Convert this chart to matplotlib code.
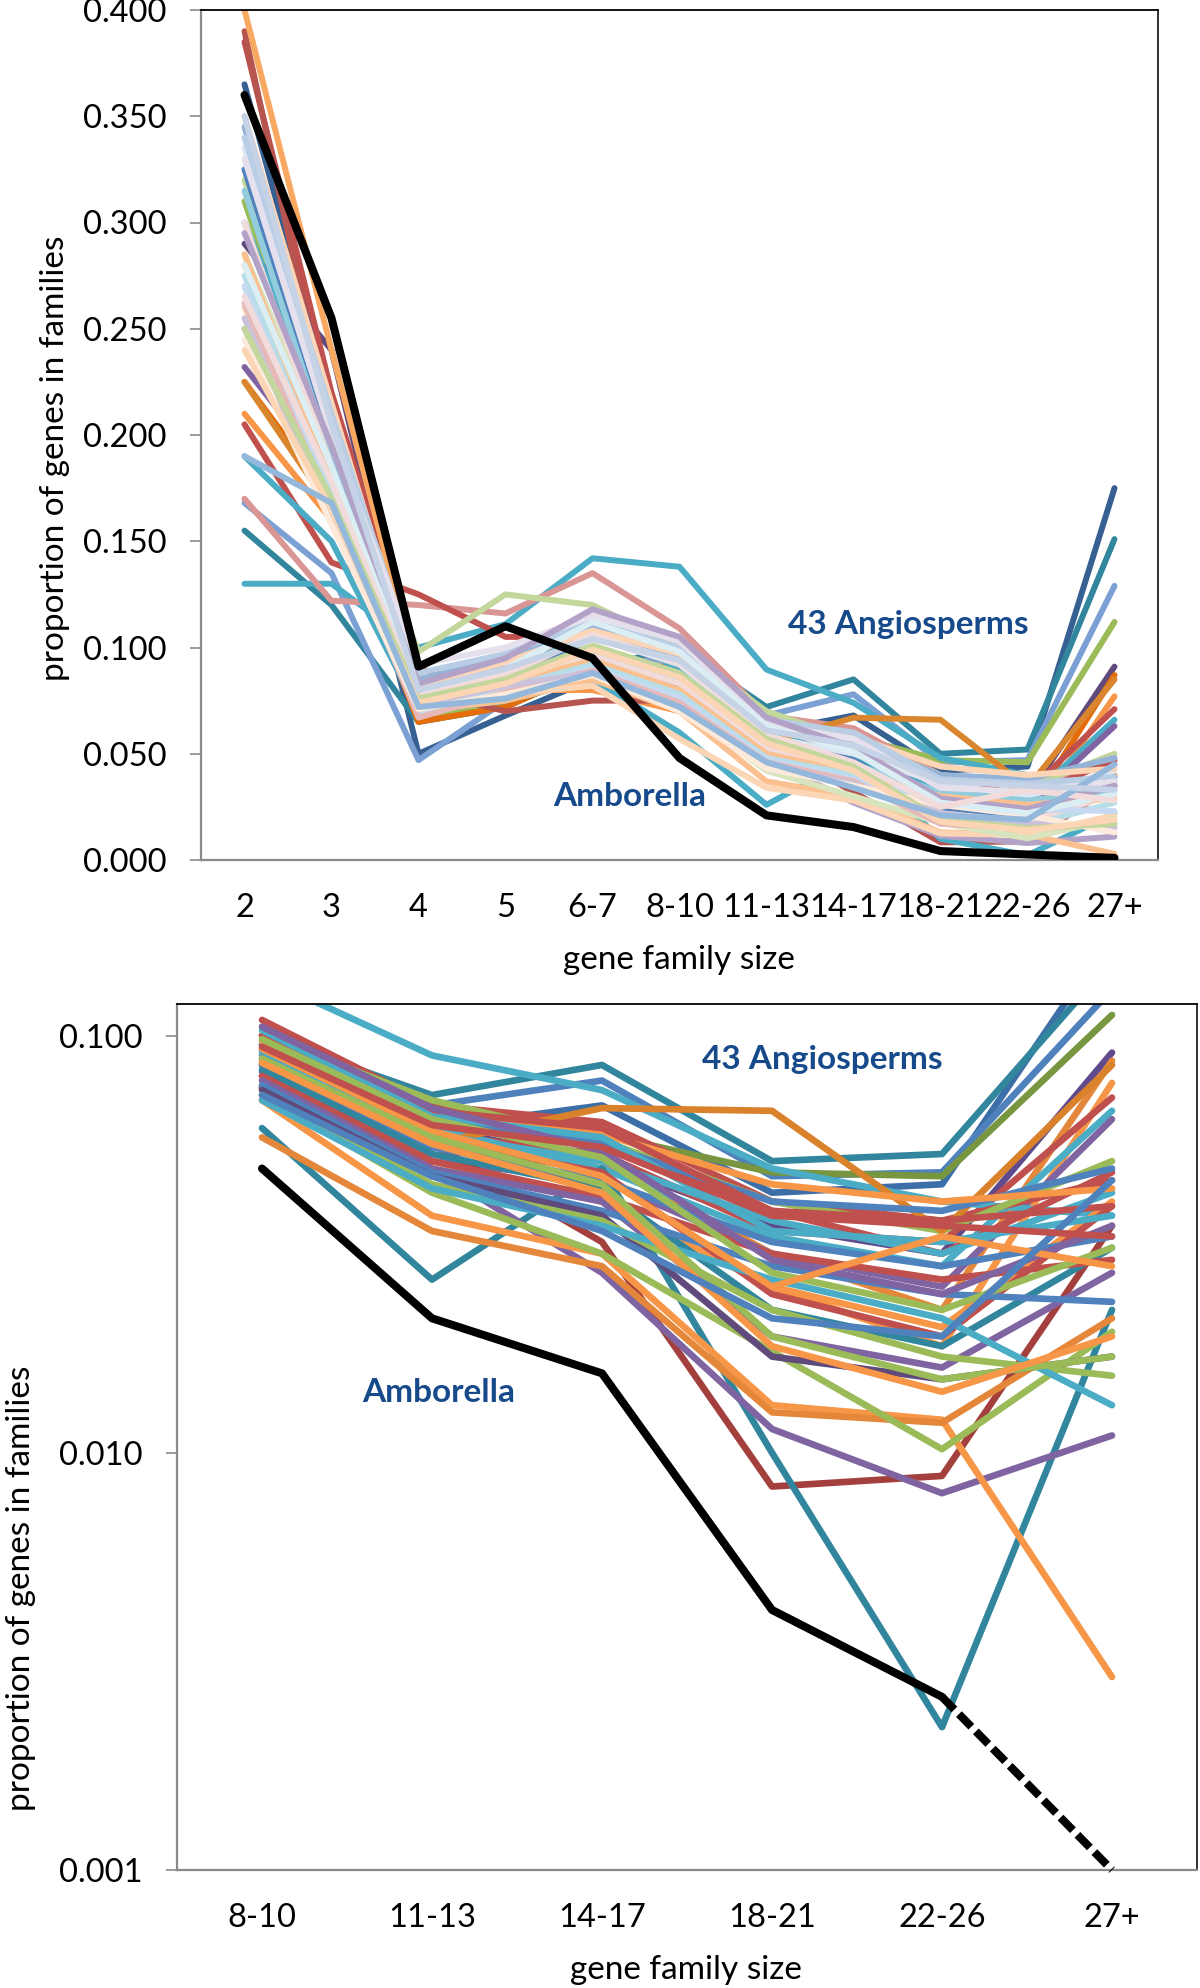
import matplotlib
matplotlib.use("Agg")
import matplotlib.pyplot as plt
from matplotlib.ticker import FixedLocator, NullLocator

plt.rcParams['font.family'] = ['Lato', 'DejaVu Sans']

# ---------------- data ----------------
categories = ['2', '3', '4', '5', '6-7', '8-10', '11-13', '14-17', '18-21', '22-26', '27+']
tail_start = 5  # bottom panel shows '8-10' .. '27+'

amborella = [0.360, 0.255, 0.091, 0.110, 0.095, 0.048, 0.021, 0.0155, 0.0042, 0.0026, 0.001]

angio_values = [
    [0.365, 0.215, 0.050, 0.068, 0.085, 0.082, 0.060, 0.068, 0.042, 0.044, 0.175],
    [0.155, 0.120, 0.065, 0.072, 0.090, 0.100, 0.072, 0.085, 0.050, 0.052, 0.151],
    [0.168, 0.135, 0.047, 0.075, 0.092, 0.095, 0.068, 0.078, 0.046, 0.047, 0.129],
    [0.310, 0.190, 0.065, 0.075, 0.085, 0.086, 0.062, 0.058, 0.047, 0.046, 0.112],
    [0.290, 0.240, 0.070, 0.080, 0.100, 0.085, 0.060, 0.050, 0.035, 0.030, 0.091],
    [0.225, 0.170, 0.065, 0.072, 0.090, 0.075, 0.055, 0.050, 0.030, 0.022, 0.087],
    [0.210, 0.160, 0.070, 0.080, 0.080, 0.070, 0.050, 0.040, 0.025, 0.018, 0.077],
    [0.385, 0.220, 0.090, 0.080, 0.095, 0.090, 0.058, 0.052, 0.034, 0.032, 0.071],
    [0.300, 0.200, 0.080, 0.085, 0.110, 0.090, 0.060, 0.048, 0.033, 0.028, 0.066],
    [0.232, 0.180, 0.070, 0.085, 0.095, 0.080, 0.050, 0.045, 0.030, 0.025, 0.063],
    [0.130, 0.130, 0.100, 0.111, 0.142, 0.138, 0.0896, 0.074, 0.048, 0.040, 0.037],
    [0.170, 0.122, 0.120, 0.116, 0.135, 0.109, 0.068, 0.062, 0.040, 0.036, 0.045],
    [0.205, 0.140, 0.125, 0.105, 0.105, 0.092, 0.065, 0.055, 0.038, 0.030, 0.047],
    [0.320, 0.200, 0.098, 0.125, 0.120, 0.100, 0.070, 0.056, 0.040, 0.034, 0.050],
    [0.390, 0.200, 0.080, 0.070, 0.075, 0.075, 0.055, 0.032, 0.0083, 0.0088, 0.035],
    [0.400, 0.240, 0.085, 0.090, 0.085, 0.080, 0.050, 0.040, 0.025, 0.020, 0.040],
    [0.190, 0.150, 0.070, 0.075, 0.085, 0.060, 0.026, 0.048, 0.010, 0.0022, 0.022],
    [0.250, 0.170, 0.075, 0.090, 0.100, 0.075, 0.048, 0.027, 0.0114, 0.0080, 0.011],
    [0.280, 0.180, 0.070, 0.075, 0.085, 0.070, 0.037, 0.030, 0.0130, 0.0120, 0.0029],
    [0.260, 0.175, 0.068, 0.078, 0.082, 0.057, 0.034, 0.028, 0.0125, 0.0118, 0.021],
    [0.285, 0.190, 0.072, 0.076, 0.090, 0.072, 0.042, 0.030, 0.0175, 0.0102, 0.0195],
    [0.225, 0.165, 0.075, 0.082, 0.090, 0.075, 0.055, 0.067, 0.066, 0.034, 0.085],
    [0.345, 0.210, 0.085, 0.095, 0.110, 0.095, 0.062, 0.055, 0.040, 0.038, 0.048],
    [0.335, 0.205, 0.078, 0.088, 0.105, 0.092, 0.058, 0.050, 0.036, 0.030, 0.042],
    [0.325, 0.195, 0.076, 0.092, 0.100, 0.088, 0.056, 0.047, 0.024, 0.019, 0.039],
    [0.315, 0.190, 0.074, 0.086, 0.098, 0.085, 0.054, 0.045, 0.032, 0.028, 0.033],
    [0.300, 0.185, 0.072, 0.084, 0.096, 0.083, 0.052, 0.043, 0.022, 0.018, 0.031],
    [0.285, 0.178, 0.070, 0.083, 0.094, 0.080, 0.050, 0.041, 0.030, 0.026, 0.029],
    [0.275, 0.172, 0.069, 0.081, 0.092, 0.078, 0.048, 0.040, 0.019, 0.016, 0.027],
    [0.270, 0.168, 0.068, 0.080, 0.090, 0.076, 0.047, 0.038, 0.028, 0.024, 0.023],
    [0.262, 0.165, 0.067, 0.079, 0.089, 0.074, 0.046, 0.037, 0.017, 0.015, 0.017],
    [0.255, 0.160, 0.073, 0.082, 0.088, 0.072, 0.044, 0.036, 0.022, 0.017, 0.0153],
    [0.245, 0.158, 0.071, 0.078, 0.087, 0.070, 0.043, 0.035, 0.026, 0.021, 0.013],
    [0.350, 0.215, 0.082, 0.093, 0.108, 0.097, 0.064, 0.058, 0.044, 0.040, 0.043],
    [0.340, 0.210, 0.088, 0.097, 0.112, 0.100, 0.066, 0.060, 0.038, 0.036, 0.039],
    [0.330, 0.200, 0.092, 0.100, 0.115, 0.103, 0.064, 0.057, 0.034, 0.032, 0.037],
    [0.295, 0.195, 0.083, 0.095, 0.118, 0.105, 0.067, 0.053, 0.029, 0.024, 0.035],
    [0.280, 0.185, 0.079, 0.090, 0.112, 0.098, 0.063, 0.051, 0.027, 0.022, 0.031],
    [0.265, 0.178, 0.077, 0.087, 0.106, 0.093, 0.059, 0.046, 0.025, 0.033, 0.028],
    [0.250, 0.170, 0.076, 0.085, 0.101, 0.088, 0.057, 0.044, 0.019, 0.015, 0.017],
    [0.240, 0.165, 0.074, 0.083, 0.099, 0.086, 0.055, 0.042, 0.018, 0.014, 0.019],
    [0.190, 0.168, 0.072, 0.076, 0.088, 0.072, 0.046, 0.034, 0.021, 0.019, 0.045],
    [0.350, 0.205, 0.080, 0.090, 0.104, 0.094, 0.061, 0.054, 0.037, 0.035, 0.033],
]

top_colors = [
    '#376092', '#31859C', '#7BA0D4', '#9BBB59', '#604A7B', '#E46C0A', '#F79646',
    '#C0504D', '#4BACC6', '#8064A2', '#4BACC6', '#D99694', '#C0504D', '#C3D69B',
    '#B65450', '#F9A862', '#4AACC5', '#B3A2C7', '#FAC090', '#FCD5B5', '#D7E4BD',
    '#D9862E', '#95B3D7', '#DCE6F2', '#4F81BD', '#93CDDD', '#F2DCDB', '#FAC090',
    '#B7DEE8', '#C6D9F1', '#E6B9B8', '#CCC1DA', '#FDEADA', '#FBD5B5', '#B9CDE5',
    '#E6E0EC', '#B3A2C7', '#DBEEF4', '#F2DCDB', '#C3D69B', '#FCD5B5', '#93B8DC',
    '#C6D2E6',
]

bottom_colors = [
    '#3C6FA8', '#31859C', '#4F81BD', '#77963F', '#5F4A8B', '#E4873A', '#F79646',
    '#C0504D', '#4BACC6', '#8064A2', '#4BACC6', '#C0504D', '#C0504D', '#9BBB59',
    '#A3403D', '#F79646', '#31859C', '#8064A2', '#F79646', '#E4873A', '#9BBB59',
    '#D9822B', '#4F81BD', '#4BACC6', '#C0504D', '#4F81BD', '#31859C', '#C0504D',
    '#8064A2', '#4F81BD', '#604A7B', '#9BBB59', '#4BACC6', '#F79646', '#C0504D',
    '#4BACC6', '#8064A2', '#9BBB59', '#F79646', '#9BBB59', '#F79646', '#4F81BD',
    '#C0504D',
]

label_blue = '#174A8B'
spine_gray = '#8A8A8A'

# ---------------- figure ----------------
W, H = 1200, 1988
fig = plt.figure(figsize=(W / 100, H / 100), dpi=100)

def fx(px):
    return px / W

def fy(py):
    return 1 - py / H

ax1 = fig.add_axes([fx(201), fy(860), fx(1158) - fx(201), fy(10) - fy(860)])
ax2 = fig.add_axes([fx(177), fy(1870), fx(1197) - fx(177), fy(1004) - fy(1870)])

x_top = list(range(len(categories)))
x_bot = list(range(len(categories) - tail_start))

line_kw = dict(solid_capstyle='round', solid_joinstyle='round')

for vals, col in zip(angio_values, top_colors):
    ax1.plot(x_top, vals, color=col, lw=4.3, **line_kw)
ax1.plot(x_top, amborella, color='black', lw=5.8, zorder=10, **line_kw)

for vals, col in zip(angio_values, bottom_colors):
    ax2.plot(x_bot, vals[tail_start:], color=col, lw=4.8, **line_kw)
amb_tail = amborella[tail_start:]
ax2.plot(x_bot[:-1], amb_tail[:-1], color='black', lw=5.8, zorder=10, **line_kw)
ax2.plot(x_bot[-2:], amb_tail[-2:], color='black', lw=5.8, zorder=10,
         dashes=(2.2, 0.8), clip_on=False)

# ---------------- axes styling ----------------
for ax in (ax1, ax2):
    ax.spines['left'].set_color(spine_gray)
    ax.spines['bottom'].set_color(spine_gray)
    ax.spines['left'].set_linewidth(1.6)
    ax.spines['bottom'].set_linewidth(1.6)
    ax.spines['top'].set_color('black')
    ax.spines['right'].set_color('#222222')
    ax.spines['top'].set_linewidth(1.3)
    ax.spines['right'].set_linewidth(1.3)
    ax.tick_params(axis='y', which='major', length=8, width=1.2, color=spine_gray,
                   direction='out', pad=17, labelsize=23.5)
    ax.tick_params(axis='x', which='both', length=0, pad=24, labelsize=23.5)

ax1.set_xlim(-0.5, len(categories) - 0.5)
ax1.set_ylim(0, 0.4)
ax1.set_xticks(x_top)
ax1.set_xticklabels(categories)
yt1 = [0.0, 0.05, 0.1, 0.15, 0.2, 0.25, 0.3, 0.35, 0.4]
ax1.set_yticks(yt1)
ax1.set_yticklabels(['%.3f' % v for v in yt1])

ax2.set_yscale('log')
ax2.set_xlim(-0.5, len(x_bot) - 0.5)
ax2.set_ylim(0.001, 0.119)
ax2.set_xticks(x_bot)
ax2.set_xticklabels(categories[tail_start:])
yt2 = [0.001, 0.01, 0.1]
ax2.yaxis.set_major_locator(FixedLocator(yt2))
ax2.yaxis.set_minor_locator(NullLocator())
ax2.set_yticklabels(['%.3f' % v for v in yt2])

# ---------------- labels ----------------
fig.text(fx(679), fy(960), 'gene family size', ha='center', va='center', fontsize=24)
fig.text(fx(686), fy(1970), 'gene family size', ha='center', va='center', fontsize=24)
fig.text(fx(55), fy(458), 'proportion of genes in families', ha='center', va='center',
         rotation=90, fontsize=24)
fig.text(fx(21), fy(1588), 'proportion of genes in families', ha='center', va='center',
         rotation=90, fontsize=24)

fig.text(fx(908), fy(624), '43 Angiosperms', ha='center', va='center', fontsize=24,
         fontweight='bold', color=label_blue)
fig.text(fx(630), fy(797), 'Amborella', ha='center', va='center', fontsize=24,
         fontweight='bold', color=label_blue)
fig.text(fx(822), fy(1059), '43 Angiosperms', ha='center', va='center', fontsize=24,
         fontweight='bold', color=label_blue)
fig.text(fx(439), fy(1393), 'Amborella', ha='center', va='center', fontsize=24,
         fontweight='bold', color=label_blue)

fig.savefig('out.png', dpi=100, facecolor='white')
